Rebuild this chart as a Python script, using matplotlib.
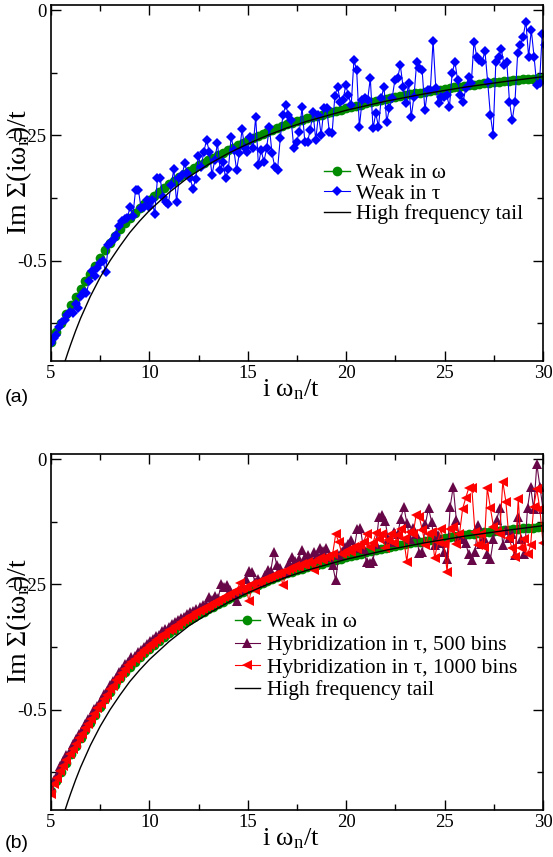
import numpy as np
import matplotlib
matplotlib.use('Agg')
import matplotlib.pyplot as plt
from matplotlib.ticker import MultipleLocator, FixedLocator, FixedFormatter

plt.rcParams['font.family'] = ['Liberation Serif', 'DejaVu Serif']
plt.rcParams['mathtext.fontset'] = 'custom'
plt.rcParams['mathtext.rm'] = 'Liberation Serif'
plt.rcParams['mathtext.it'] = 'Liberation Serif'

# ---------------- data ----------------
X_START, X_END = 5.0, 30.0

# Weak coupling in omega (smooth), sampled on a 0.25 grid
weak_omega = [
    -0.662, -0.643, -0.625, -0.607, -0.589, -0.573, -0.557, -0.541, -0.526, -0.510,
    -0.494, -0.479, -0.464, -0.450, -0.437, -0.425, -0.414, -0.404, -0.395, -0.386,
    -0.378, -0.370, -0.362, -0.355, -0.347, -0.341, -0.334, -0.328, -0.321, -0.316,
    -0.310, -0.305, -0.300, -0.295, -0.290, -0.285, -0.280, -0.275, -0.270, -0.265,
    -0.260, -0.256, -0.252, -0.248, -0.244, -0.240, -0.236, -0.232, -0.228, -0.225,
    -0.222, -0.219, -0.216, -0.214, -0.211, -0.209, -0.206, -0.204, -0.201, -0.199,
    -0.196, -0.194, -0.191, -0.189, -0.186, -0.184, -0.182, -0.179, -0.177, -0.175,
    -0.173, -0.171, -0.169, -0.168, -0.166, -0.165, -0.163, -0.162, -0.160, -0.159,
    -0.157, -0.156, -0.154, -0.153, -0.151, -0.150, -0.149, -0.147, -0.146, -0.145,
    -0.144, -0.143, -0.142, -0.141, -0.140, -0.139, -0.138, -0.137, -0.137, -0.136,
    -0.135]

# Weak coupling in tau (noisy)
weak_tau = [
    -0.665, -0.655, -0.648, -0.632, -0.622, -0.618, -0.608, -0.603, -0.605, -0.586,
    -0.595, -0.570, -0.562, -0.565, -0.540, -0.520, -0.530, -0.515, -0.505, -0.500,
    -0.522, -0.468, -0.462, -0.456, -0.448, -0.430, -0.420, -0.416, -0.414, -0.392,
    -0.410, -0.358, -0.358, -0.395, -0.392, -0.378, -0.392,
    -0.379, -0.406, -0.336, -0.336, -0.372, -0.382, -0.386, -0.349, -0.318, -0.382,
    -0.336, -0.329, -0.306, -0.326, -0.336, -0.356, -0.338, -0.291, -0.313, -0.283,
    -0.259, -0.283, -0.329, -0.299, -0.266, -0.319, -0.303, -0.336, -0.318, -0.253,
    -0.279, -0.319, -0.286, -0.238, -0.276, -0.283, -0.253, -0.276, -0.213, -0.309,
    -0.279, -0.303, -0.276, -0.233, -0.286, -0.313, -0.319, -0.256, -0.209, -0.190,
    -0.209, -0.220, -0.276, -0.263, -0.243, -0.194, -0.263, -0.263, -0.239, -0.203,
    -0.259, -0.209, -0.249, -0.196, -0.196, -0.243, -0.246, -0.172, -0.153, -0.183,
    -0.180, -0.150, -0.170,
    -0.190, -0.100, -0.120, -0.233, -0.180, -0.176, -0.180, -0.136, -0.236, -0.206,
    -0.233, -0.176, -0.153, -0.223, -0.196, -0.176, -0.140, -0.136, -0.110, -0.153,
    -0.186, -0.146, -0.213, -0.173, -0.103, -0.116, -0.120, -0.200, -0.160, -0.160,
    -0.061, -0.156, -0.186, -0.173, -0.173, -0.170, -0.193, -0.126, -0.103, -0.140,
    -0.170, -0.183, -0.156, -0.133, -0.146, -0.063, -0.093, -0.100, -0.103, -0.082,
    -0.143, -0.209, -0.249, -0.103, -0.093, -0.077, -0.110, -0.103, -0.183, -0.220,
    -0.183, -0.086, -0.070, -0.053, -0.023, -0.093, -0.040, -0.093, -0.150, -0.146,
    -0.047, -0.070]
TAU_X_END = 30.1

# Hybridization expansion, 500 bins
hyb_500 = [
    -0.655, -0.640, -0.630, -0.612, -0.603, -0.590, -0.582, -0.568, -0.558, -0.549,
    -0.540, -0.528, -0.519, -0.512, -0.498, -0.492, -0.480, -0.468, -0.462, -0.450,
    -0.443, -0.436, -0.425, -0.418, -0.409, -0.404, -0.395, -0.392, -0.384, -0.380,
    -0.374, -0.368, -0.362, -0.359, -0.353, -0.350, -0.343, -0.340, -0.335, -0.330,
    -0.326, -0.322, -0.318, -0.316, -0.310, -0.306, -0.304, -0.300, -0.296, -0.291,
    -0.289, -0.276, -0.282, -0.274, -0.278, -0.250, -0.256, -0.252, -0.262, -0.270,
    -0.284, -0.262, -0.258, -0.240, -0.224, -0.226, -0.246, -0.240, -0.246, -0.232,
    -0.222, -0.224, -0.186, -0.212, -0.218, -0.228, -0.226, -0.208, -0.196, -0.204,
    -0.200, -0.182, -0.196, -0.192, -0.200, -0.186, -0.192, -0.178, -0.184, -0.178,
    -0.196, -0.212, -0.242, -0.192, -0.186, -0.175, -0.170, -0.162, -0.178, -0.140,
    -0.138, -0.180, -0.206, -0.208, -0.204, -0.170, -0.116, -0.112, -0.124, -0.160,
    -0.166, -0.145, -0.150, -0.120, -0.095, -0.128, -0.160, -0.138, -0.150, -0.188,
    -0.185, -0.130, -0.098, -0.125, -0.172, -0.152, -0.168, -0.185, -0.200, -0.095,
    -0.055, -0.122, -0.155, -0.160, -0.168, -0.190, -0.202, -0.185, -0.132, -0.170,
    -0.158, -0.190, -0.200, -0.160, -0.122, -0.098, -0.172, -0.142, -0.158, -0.150,
    -0.192, -0.115, -0.160, -0.190, -0.098, -0.055, -0.100, -0.010, -0.055, -0.100]

# Hybridization expansion, 1000 bins
hyb_1000 = [
    -0.668, -0.648, -0.636, -0.622, -0.612, -0.600, -0.588, -0.578, -0.569, -0.556,
    -0.548, -0.537, -0.528, -0.518, -0.508, -0.497, -0.489, -0.478, -0.470, -0.459,
    -0.452, -0.441, -0.434, -0.426, -0.419, -0.410, -0.405, -0.398, -0.393, -0.387,
    -0.381, -0.377, -0.371, -0.366, -0.361, -0.357, -0.351, -0.348, -0.342, -0.339,
    -0.334, -0.331, -0.325, -0.322, -0.318, -0.314, -0.311, -0.306, -0.304, -0.300,
    -0.296, -0.294, -0.290, -0.286, -0.283, -0.280, -0.276, -0.273, -0.270, -0.266,
    -0.262, -0.248, -0.262, -0.256, -0.284, -0.250, -0.262, -0.246, -0.243, -0.240,
    -0.238, -0.236, -0.232, -0.230, -0.228, -0.252, -0.224, -0.220, -0.218, -0.214,
    -0.216, -0.210, -0.212, -0.206, -0.208, -0.222, -0.204, -0.198, -0.202, -0.196,
    -0.194, -0.190, -0.150, -0.165, -0.190, -0.185, -0.182, -0.186, -0.176, -0.180,
    -0.172, -0.165, -0.150, -0.175, -0.168, -0.148, -0.160, -0.150, -0.178, -0.162,
    -0.150, -0.168, -0.152, -0.140, -0.160, -0.205, -0.145, -0.150, -0.112, -0.115,
    -0.142, -0.172, -0.150, -0.145, -0.198, -0.165, -0.140, -0.170, -0.225, -0.140,
    -0.135, -0.170, -0.150, -0.100, -0.078, -0.058, -0.058, -0.145, -0.172, -0.150,
    -0.175, -0.058, -0.098, -0.135, -0.145, -0.150, -0.045, -0.085, -0.158, -0.178,
    -0.195, -0.080, -0.178, -0.160, -0.190, -0.172, -0.095, -0.060, -0.100, -0.168]

# High-frequency tail
tail_x = [5.7, 5.85, 6.0, 6.25, 6.5, 6.75, 7.0, 7.5, 8.0, 8.5, 9.0, 9.5, 10, 11, 12,
          13, 14, 15, 16, 17, 18, 19, 20, 22, 24, 26, 28, 30]
tail_y = [-0.702, -0.684, -0.667, -0.640, -0.615, -0.593, -0.571, -0.533, -0.500,
          -0.471, -0.444, -0.421, -0.400, -0.364, -0.333, -0.308, -0.286, -0.267,
          -0.250, -0.235, -0.222, -0.211, -0.200, -0.182, -0.167, -0.154, -0.143,
          -0.133]

x_ticks = [5, 10, 15, 20, 25, 30]
x_ticklabels = ['5', '10', '15', '20', '25', '30']
y_ticks = [0, -0.25, -0.5]
y_ticklabels = ['0', '-0.25', '-0.5']

lab_omega = 'Weak in ω'
lab_tau = 'Weak in τ'
lab_500 = 'Hybridization in τ, 500 bins'
lab_1000 = 'Hybridization in τ, 1000 bins'
lab_tail = 'High frequency tail'

# ---------------- figure ----------------
W, H = 553, 857
fig = plt.figure(figsize=(W / 100, H / 100), dpi=100)

GREEN = '#008b00'
BLUE = '#0000ff'
MAROON = '#670748'
RED = '#ff0000'

ax_l, ax_w, ax_h = 51 / W, 492 / W, 356 / H
ax1 = fig.add_axes([ax_l, 1 - 361 / H, ax_w, ax_h])
ax2 = fig.add_axes([ax_l, 1 - 810 / H, ax_w, ax_h])

x_om = np.linspace(X_START, X_END, len(weak_omega))
x_tau = np.linspace(X_START, TAU_X_END, len(weak_tau))
x_hyb = np.linspace(X_START, X_END, len(hyb_500))


def style(ax):
    ax.set_xlim(5, 30)
    ax.set_ylim(-0.70, 0.01)
    ax.xaxis.set_major_locator(FixedLocator(x_ticks))
    ax.xaxis.set_major_formatter(FixedFormatter(x_ticklabels))
    ax.xaxis.set_minor_locator(MultipleLocator(2.5))
    ax.yaxis.set_major_locator(FixedLocator(y_ticks))
    ax.yaxis.set_major_formatter(FixedFormatter(y_ticklabels))
    ax.yaxis.set_minor_locator(MultipleLocator(0.125))
    ax.tick_params(which='both', direction='in', top=True, right=True,
                   labelsize=13.5, width=1.0)
    ax.tick_params(which='major', length=7, pad=3)
    ax.tick_params(which='minor', length=4.5)
    for s in ax.spines.values():
        s.set_linewidth(1.2)
    ax.set_xlabel('i ω$_{\\mathrm{n}}$/t', fontsize=19)
    ax.xaxis.set_label_coords(0.487, -0.045)
    ax.set_ylabel('Im Σ(iω$_{\\mathrm{n}}$)/t', fontsize=20)
    ax.yaxis.set_label_coords(-0.034, 0.53)


# top panel
ax1.plot(x_om, weak_omega, '-o', color=GREEN, ms=7, mew=0, lw=1, label=lab_omega)
ax1.plot(x_tau, weak_tau, '-D', color=BLUE, ms=5.2, mew=0, lw=0.8, label=lab_tau)
ax1.plot(tail_x, tail_y, '-', color='black', lw=1.0, label=lab_tail)
style(ax1)
ax1.legend(loc='upper left', bbox_to_anchor=(0.555, 0.555), frameon=False,
           fontsize=15.5, handlelength=1.2, handletextpad=0.3, labelspacing=0.02,
           borderpad=0, borderaxespad=0)

# bottom panel
ax2.plot(x_om, weak_omega, '-o', color=GREEN, ms=7, mew=0, lw=1, label=lab_omega)
ax2.plot(x_hyb, hyb_500, '-^', color=MAROON, ms=6.5, mew=0, lw=0.8, label=lab_500)
ax2.plot(x_hyb, hyb_1000, '-<', color=RED, ms=6.5, mew=0, lw=0.8, label=lab_1000)
ax2.plot(tail_x, tail_y, '-', color='black', lw=1.0, label=lab_tail)
style(ax2)
ax2.legend(loc='upper left', bbox_to_anchor=(0.373, 0.555), frameon=False,
           fontsize=15.5, handlelength=1.2, handletextpad=0.3, labelspacing=0.12,
           borderpad=0, borderaxespad=0)

fig.text(5 / W, 1 - 398 / H, '(a)', family=['Liberation Sans', 'DejaVu Sans'],
         fontsize=14, va='center', ha='left')
fig.text(5 / W, 1 - 843 / H, '(b)', family=['Liberation Sans', 'DejaVu Sans'],
         fontsize=14, va='center', ha='left')

fig.savefig('out.png', dpi=100)
